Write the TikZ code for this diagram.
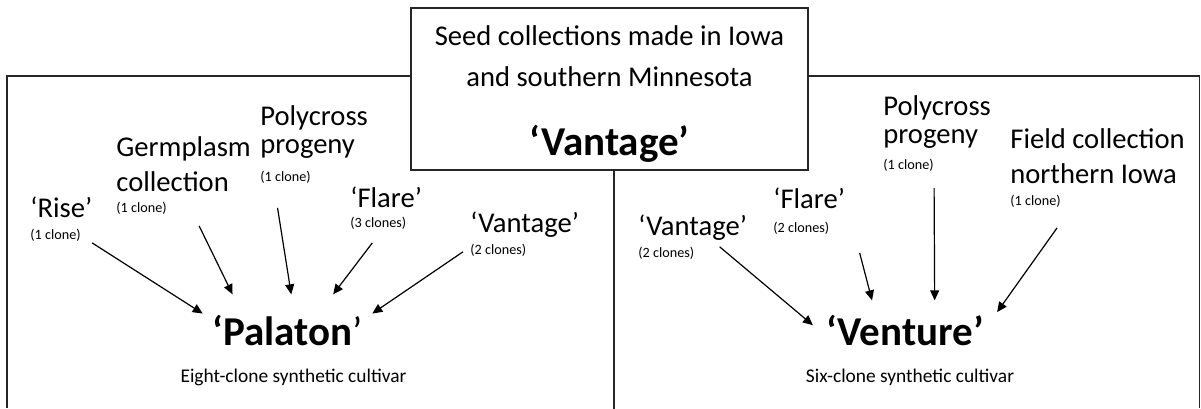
\documentclass[tikz,border=0pt]{standalone}
\usepackage{fontspec}
\setmainfont{Carlito}
\usetikzlibrary{arrows.meta}

\tikzset{
  src/.style={font=\fontsize{14.3}{17.5}\selectfont, align=left, anchor=base west, inner sep=0pt},
  tight/.style={font=\fontsize{14.3}{14}\selectfont},
  clones/.style={font=\fontsize{7.1}{8.5}\selectfont, anchor=base west, inner sep=0pt},
  cultivar/.style={font=\fontsize{20.5}{24}\selectfont\bfseries, anchor=base},
  note/.style={font=\fontsize{9.7}{11}\selectfont, anchor=base, inner sep=0pt},
  feed/.style={-{Triangle[length=5pt,width=4.5pt]}, line width=0.6pt},
  frame/.style={line width=0.75pt, black!85},
}

\begin{document}
\begin{tikzpicture}[x=0.5pt,y=-0.5pt]
\useasboundingbox (0,0) rectangle (1201,408);

% source of the clones
\node[draw, frame, text=black, minimum width=198.5pt, minimum height=81pt, inner sep=0pt, align=center,
  font=\fontsize{14.3}{20.5}\selectfont] (seed) at (609.5,89)
  {\rule{0pt}{14.7pt}Seed collections made in Iowa\\and southern Minnesota\\[14pt]{\fontsize{20.5}{24}\selectfont\bfseries ‘Vantage’}};

% the two panels
\draw[frame] (7,408) -- (7,76) -- (seed.west |- 0,76);
\draw[frame] (seed.east |- 0,76) -- (1199.5,76) -- (1199.5,408);
\draw[frame] ([xshift=2.25pt]seed.south) -- ++(0,238);

% left panel (multi-line labels sit on their last line)
\node[src] (rise) at (30,217) {‘Rise’};
\node[clones] (rise1) at (30,239) {(1 clone)};
\node[src] (germ) at (116,191) {Germplasm\\collection};
\node[clones] (germ1) at (116,212) {(1 clone)};
\node[src, tight] (polyL) at (260,153) {Polycross\\progeny};
\node[clones] (polyL1) at (260,181) {(1 clone)};
\node[src] (flareL) at (350,207) {‘Flare’};
\node[clones] (flareL1) at (350,227) {(3 clones)};
\node[src] (vantL) at (470,232) {‘Vantage’};
\node[clones] (vantL1) at (470,254) {(2 clones)};
\node[cultivar, inner xsep=4.75pt, inner ysep=10pt] (palaton) at (287.5,345) {‘Palaton{\mdseries’}};
\node[note] (palatonnote) at (293.5,382) {Eight-clone synthetic cultivar};

\draw[feed] ([shift={(11,1.5)}]rise1.south east) -- (palaton.169);
\draw[feed] ([shift={(32,11.5)}]germ1.south east) -- (palaton.147);
\draw[feed] ([shift={(-8,24.5)}]polyL1.south) -- (palaton.84);
\draw[feed] ([shift={(-6,13.5)}]flareL1.south) -- (palaton.38);
\draw[feed] ([shift={(-7,2)}]vantL1.west) -- (palaton.11);

% right panel
\node[src] (vantR) at (638,235) {‘Vantage’};
\node[clones] (vantR1) at (638,257) {(2 clones)};
\node[src] (flareR) at (773,208) {‘Flare’};
\node[clones] (flareR1) at (773,232) {(2 clones)};
\node[src, tight] (polyR) at (883,143) {Polycross\\progeny};
\node[clones] (polyR1) at (883,169) {(1 clone)};
\node[src] (field) at (1010,183) {Field collection\\northern Iowa};
\node[clones] (field1) at (1010,205) {(1 clone)};
\node[cultivar, inner xsep=6.5pt, inner ysep=7pt] (venture) at (905,345) {‘Venture’};
\node[note] (venturenote) at (910,382) {Six-clone synthetic cultivar};

\draw[feed] ([shift={(25,-6)}]vantR1.east) -- (venture.177);
\draw[feed] ([shift={(30,18.5)}]flareR1.south east) -- (venture.138);
\draw[feed] ([shift={(0,16.5)}]polyR1.south east) -- (venture.45);
\draw[feed] ([shift={(-4,20.5)}]field1.south east) -- (venture.11);
\end{tikzpicture}
\end{document}
